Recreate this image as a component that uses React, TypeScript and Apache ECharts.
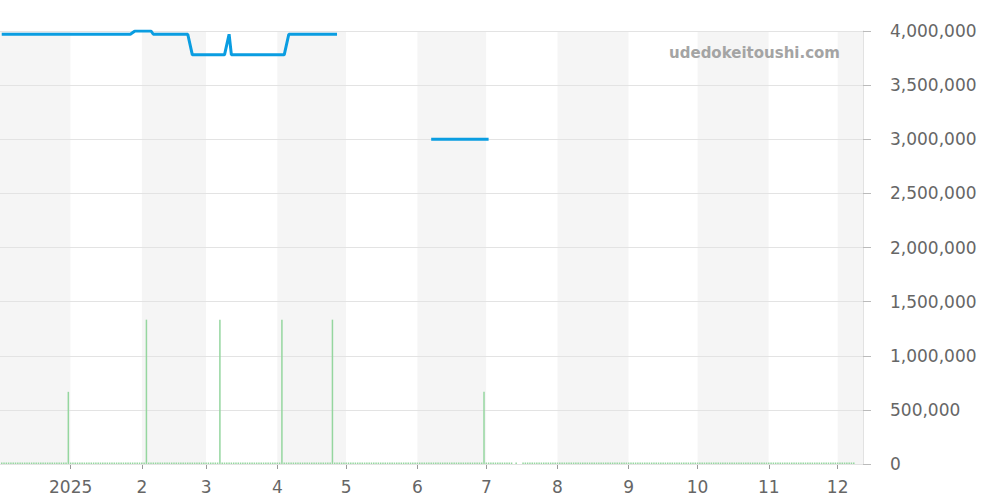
import React, { useEffect, useRef } from "react";
import * as echarts from "echarts";

// Price series (date, JPY); null marks a gap with no listing
const priceDates: string[] = [
  "2024-12-02", "2025-01-27", "2025-01-29", "2025-02-05", "2025-02-06",
  "2025-02-21", "2025-02-23", "2025-03-09", "2025-03-11", "2025-03-12",
  "2025-04-04", "2025-04-06", "2025-04-27", "2025-05-20",
  "2025-06-07", "2025-07-02",
];
const priceValues: (number | null)[] = [
  3970000, 3970000, 4000000, 4000000, 3970000,
  3970000, 3780000, 3780000, 3970000, 3780000,
  3780000, 3970000, 3970000, null,
  3000000, 3000000,
];

// Volume spikes (date, count)
const volumeSpikeDates: string[] = [
  "2024-12-31", "2025-02-03", "2025-03-07", "2025-04-03", "2025-04-25", "2025-06-30",
];
const volumeSpikeValues: number[] = [1, 2, 2, 2, 2, 1];
// days with volume records (zero unless a spike), and days without records
const volumeFirstDay = "2024-12-02";
const volumeLastDay = "2025-12-08";
const volumeMissingDays: string[] = ["2025-07-13", "2025-07-15", "2025-07-16"];

const yTicks: number[] = [0, 500000, 1000000, 1500000, 2000000, 2500000, 3000000, 3500000, 4000000];

function fmtDay(d: Date): string {
  const m = String(d.getMonth() + 1).padStart(2, "0");
  const dd = String(d.getDate()).padStart(2, "0");
  return `${d.getFullYear()}-${m}-${dd}`;
}

export default function App() {
  const ref = useRef<HTMLDivElement>(null);
  useEffect(() => {
    document.body.style.margin = "0";
    if (!ref.current) return;
    const chart = echarts.init(ref.current, undefined, { renderer: "svg" });

    const priceData = priceDates.map((d, i) => [d, priceValues[i]]);
    const spikeMap: Record<string, number> = {};
    volumeSpikeDates.forEach((d, i) => (spikeMap[d] = volumeSpikeValues[i]));
    const volData: any[] = [];
    const cur = new Date(volumeFirstDay + "T00:00:00");
    const end = new Date(volumeLastDay + "T00:00:00");
    while (cur.getTime() <= end.getTime()) {
      const k = fmtDay(cur);
      if (!volumeMissingDays.includes(k)) volData.push([k, spikeMap[k] ?? 0]);
      cur.setDate(cur.getDate() + 1);
    }

    const DAY = 86400000;
    const xMin = new Date("2025-01-01T00:00:00").getTime() - 30.43 * DAY;
    const xMax = new Date("2025-12-01T00:00:00").getTime() + 10.7 * DAY;

    chart.setOption({
      animation: false,
      textStyle: { fontFamily: "DejaVu Sans" },
      grid: { left: 0, right: 137, top: 31, bottom: 36 },
      graphic: [
        {
          type: "text",
          x: 840,
          y: 53,
          style: {
            text: "udedokeitoushi.com",
            fill: "#a4a4a4",
            font: "bold 15px 'DejaVu Sans'",
            textAlign: "right",
            textVerticalAlign: "middle",
          },
          z: 10,
        },
      ],
      xAxis: {
        type: "time",
        min: xMin,
        max: xMax,
        z: 0,
        minInterval: 28 * DAY,
        maxInterval: 31 * DAY,
        axisLine: { show: true, lineStyle: { color: "#cccccc" } },
        axisTick: { show: true, length: 5, lineStyle: { color: "#999999" } },
        axisLabel: {
          fontSize: 17,
          color: "#666666",
          margin: 14,
          showMinLabel: false,
          showMaxLabel: false,
          formatter: (v: number) => {
            const d = new Date(v);
            return d.getMonth() === 0 ? String(d.getFullYear()) : String(d.getMonth() + 1);
          },
        },
        splitLine: { show: false },
        splitArea: { show: true, areaStyle: { color: ["#f5f5f5", "#ffffff"] } },
      },
      yAxis: [
        {
          type: "value",
          position: "right",
          min: 0,
          max: 4000000,
          interval: 500000,
          z: 1,
          axisLine: { show: true, lineStyle: { color: "#e2e2e2" } },
          axisTick: { show: true, length: 8, lineStyle: { color: "#bbbbbb" } },
          axisLabel: {
            fontSize: 17,
            color: "#666666",
            margin: 27,
            formatter: (v: number) => (yTicks.includes(v) ? v.toLocaleString("en-US") : ""),
          },
          splitLine: { show: true, lineStyle: { color: "#e3e3e3" } },
        },
        {
          type: "value",
          min: 0,
          max: 6,
          show: false,
          splitLine: { show: false },
        },
      ],
      series: [
        {
          type: "bar",
          yAxisIndex: 1,
          data: volData,
          barWidth: 1.5,
          barMinHeight: 1.5,
          itemStyle: { color: "#95d69f" },
          z: 3,
        },
        {
          type: "line",
          data: priceData,
          showSymbol: false,
          connectNulls: false,
          lineStyle: { color: "#0a9de1", width: 3 },
          itemStyle: { color: "#0a9de1" },
          z: 4,
        },
      ],
    });
    return () => chart.dispose();
  }, []);
  return <div ref={ref} style={{ width: 1000, height: 500 }} />;
}
